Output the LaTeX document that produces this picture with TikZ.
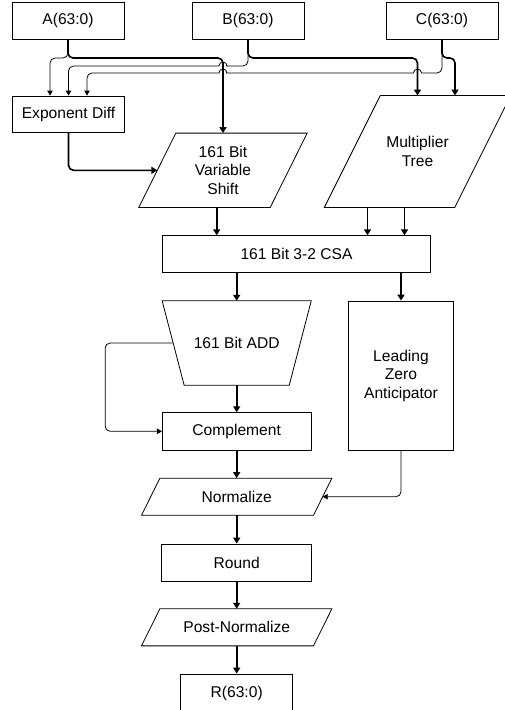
\documentclass[tikz,border=0pt]{standalone}
\usepackage{fontspec}
\setmainfont{Liberation Sans}
\usetikzlibrary{arrows.meta}

% outline of a slanted block around a text node: top edge shifted right, bottom edge left
\newcommand\slantoutline[2]{%
  \draw[outline] ([xshift=#2]#1.north west) -- ([xshift=#2]#1.north east)
    -- ([xshift=-#2]#1.south east) -- ([xshift=-#2]#1.south west) -- cycle;}

\begin{document}
\begin{tikzpicture}[x=1pt,y=-1pt,
  every node/.style={font=\fontsize{15.6}{18.5}\selectfont, align=center, inner sep=0pt},
  box/.style={draw, line width=0.8pt},
  body/.style={},
  outline/.style={line width=0.8pt},
  bus/.style={line width=1.6pt, -{Triangle[length=6pt,width=7pt]}},
  wire/.style={line width=0.8pt, -{Triangle[length=5pt,width=5.5pt]}}
]
\useasboundingbox (0,0) rectangle (504,710);

% operands
\node[box, minimum width=112pt, minimum height=37pt] (A) at (68,20.5) {A(63:0)};
\node[box, minimum width=112pt, minimum height=37pt] (B) at (248,20.5) {B(63:0)};
\node[box, minimum width=112pt, minimum height=37pt] (C) at (442,20.5) {C(63:0)};

% datapath blocks
\node[box, minimum width=112pt, minimum height=36pt] (ED) at (68.5,114) {Exponent Diff};
\node[body, minimum width=131pt, minimum height=74pt] (shift) at (223,170.3) {161 Bit\\Variable\\Shift};
\node[body, minimum width=130pt, minimum height=111.6pt] (mult) at (417.5,151.5) {Multiplier\\Tree};
\node[box, minimum width=268.4pt, minimum height=37pt] (CSA) at (296.5,254.2) {161 Bit 3-2 CSA};
\node[body, minimum width=148.7pt, minimum height=84pt] (add) at (236.7,343) {161 Bit ADD};
\node[box, minimum width=105.2pt, minimum height=149pt] (LZA) at (401,375.5) {Leading\\Zero\\Anticipator};
\node[box, minimum width=148.7pt, minimum height=37.3pt] (comp) at (236.7,431.3) {Complement};
\node[body, minimum width=171.6pt, minimum height=36.7pt] (norm) at (236.7,496.7) {Normalize};
\node[box, minimum width=150pt, minimum height=37pt] (rnd) at (236.7,562.5) {Round};
\node[body, minimum width=171.6pt, minimum height=36.7pt] (post) at (236.7,627.3) {Post-Normalize};
\node[box, minimum width=112pt, minimum height=38pt] (R) at (236.7,693) {R(63:0)};

% block outlines
\slantoutline{shift}{18.5pt}
\slantoutline{mult}{28pt}
\slantoutline{norm}{9.2pt}
\slantoutline{post}{9.2pt}
\draw[outline] (add.north west) -- (add.north east) -- ([xshift=-22pt]add.south east)
  -- ([xshift=22pt]add.south west) -- cycle;

% input ports
\coordinate (edA) at ([xshift=-18.5pt]ED.north);
\coordinate (edC) at ([xshift=18.5pt]ED.north);
\coordinate (multC) at ([xshift=37.5pt]mult.north);
\coordinate (shOut) at ([xshift=-6.3pt]shift.south);
\coordinate (m1) at ([xshift=-50pt]mult.south);
\coordinate (m2) at ([xshift=-13pt]mult.south);
\coordinate (fb) at ([xshift=10.5pt]add.west);

% operand fan-out
\draw[wire, rounded corners=5pt] (A.south) -- (A.south |- 0,58) -| (edA);
\draw[bus, rounded corners=5pt] (A.south) -- (A.south |- 0,58) -| (shift.north);
\draw[bus, rounded corners=5pt] (B.south) -- (B.south |- 0,58) -| (mult.north);
\draw[bus, rounded corners=5pt] (C.south) -- (C.south |- 0,58) -| (multC);
\draw[wire] (B.south) [rounded corners=5pt] -- (B.south |- 0,66) -- (231,66)
  [sharp corners] -- (227,66) arc[start angle=0, end angle=180, radius=4pt] -- (215,66)
  [rounded corners=5pt] -- (ED.north |- 0,66) -- (ED.north);
\draw[wire] (C.south) [rounded corners=5pt] -- (C.south |- 0,73) -- (426,73)
  [sharp corners] -- (421.5,73) arc[start angle=0, end angle=180, radius=4pt] -- (409,73)
  [rounded corners=5pt] -- (231,73)
  [sharp corners] -- (227,73) arc[start angle=0, end angle=180, radius=4pt] -- (215,73)
  [rounded corners=5pt] -- (edC |- 0,73) -- (edC);

% datapath
\draw[bus, rounded corners=5pt] (ED.south) |- (shift.west);
\draw[bus] (shOut) -- (shOut |- CSA.north);
\draw[bus] (m1) -- (m1 |- CSA.north);
\draw[bus] (m2) -- (m2 |- CSA.north);
\draw[bus] (add.north |- CSA.south) -- (add.north);
\draw[bus] (LZA.north |- CSA.south) -- (LZA.north);
\draw[bus] (add.south) -- (comp.north);
\draw[wire, rounded corners=5pt] (fb) -- ++(-67.5,0) |- (comp.west);
\draw[bus] (comp.south) -- (norm.north);
\draw[wire, rounded corners=5pt] (LZA.south) |- (norm.east);
\draw[bus] (norm.south) -- (rnd.north);
\draw[bus] (rnd.south) -- (post.north);
\draw[bus] (post.south) -- (R.north);
\end{tikzpicture}
\end{document}
